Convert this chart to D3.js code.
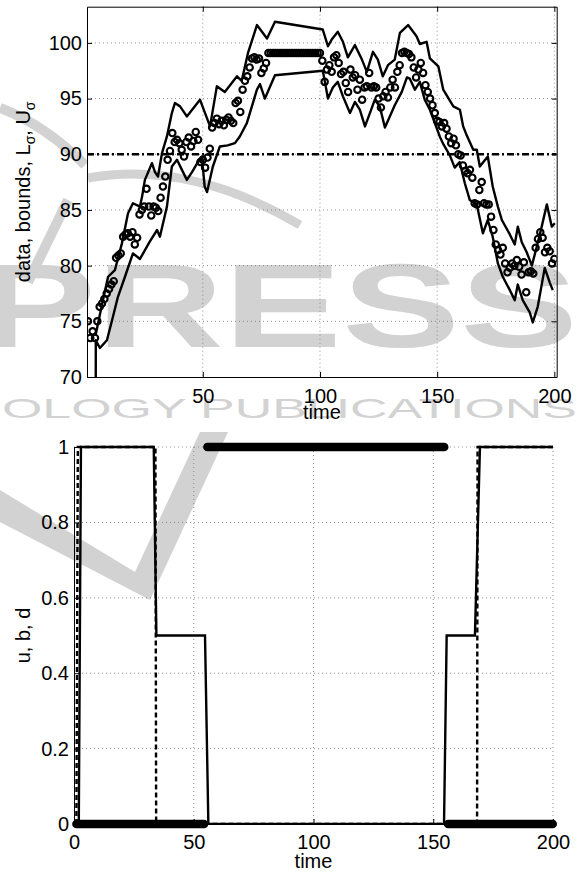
<!DOCTYPE html>
<html><head><meta charset="utf-8">
<script src="https://cdn.jsdelivr.net/npm/d3@7"></script>
<style>
body{margin:0;background:#fff;}
text{font-family:"Liberation Sans",Arial,Helvetica,sans-serif;}
</style>
</head><body>
<svg id="chart" width="579" height="872"></svg>
<script>
// ---------- top panel data ----------
const dataValues = [
75.0,73.5,74.1,73.5,75.0,76.3,76.6,77.0,77.5,77.9,
78.3,78.6,80.7,80.9,81.1,82.6,82.8,82.9,82.6,83.0,
81.9,82.5,84.6,85.0,85.3,86.9,85.3,84.5,85.3,85.2,
84.9,86.1,87.1,88.0,89.5,90.3,91.9,91.1,91.3,91.0,
90.4,89.8,91.1,91.5,90.7,91.2,92.0,91.3,89.3,89.5,
88.8,89.7,90.5,92.4,92.8,93.2,92.7,93.0,92.6,93.1,
93.3,93.0,92.8,94.6,94.8,93.8,95.8,96.6,97.0,97.8,
98.6,98.7,98.5,98.6,97.3,97.7,98.2,99.1,99.1,99.1,
99.1,99.1,99.1,99.1,99.1,99.1,99.1,99.1,99.1,99.1,
99.1,99.1,99.1,99.1,99.1,99.1,99.1,99.1,99.1,99.1,
98.4,96.5,97.6,98.0,97.4,98.7,98.9,98.2,97.2,97.4,
96.4,95.6,97.6,96.9,97.1,95.8,96.7,94.9,96.0,96.1,
97.3,96.0,96.1,96.0,95.0,94.2,95.2,95.6,95.1,96.0,
96.7,96.0,97.4,98.0,99.1,99.2,99.1,99.0,98.7,97.8,
96.9,97.6,98.2,97.3,96.2,95.6,95.0,94.4,93.7,93.0,
92.9,92.5,92.8,92.3,91.6,91.0,91.4,90.8,90.0,89.9,
89.0,88.5,88.3,88.6,87.9,85.6,85.5,86.8,87.5,85.6,
85.5,85.5,84.4,83.2,81.9,81.4,81.0,81.6,80.2,79.4,
79.8,80.2,80.0,80.5,79.9,79.2,80.3,77.6,79.4,79.5,
79.3,81.6,82.4,83.0,82.5,81.2,81.6,81.3,80.2,80.6
];
const upperTime = [4.3,7.0,9.6,12.5,15.5,18.1,20.2,23.2,24.1,25.3,28.3,29.6,30.9,32.6,34.7,36.8,38.1,40.3,43.2,48.8,
53.1,56.0,59.4,64.6,66.6,69.3,73.1,77.4,80.8,101.2,103.4,105.0,107.6,109.8,111.9,114.9,117.9,120.0,122.6,124.7,
126.8,129.0,131.9,134.1,137.6,141.2,142.6,145.5,146.9,150.5,152.6,156.9,159.7,161.1,162.6,165.4,166.9,168.2,171.6,173.7,
175.9,177.6,181.0,183.1,184.4,186.1,188.2,190.4,192.5,194.6,196.8,198.9,200.2];
const upperValues = [73.8,76.5,79.0,79.6,82.0,84.7,85.6,85.3,86.2,87.7,89.2,88.4,88.0,90.1,91.6,93.7,94.6,94.3,93.4,94.9,
92.5,96.1,95.6,97.0,96.6,99.1,101.6,100.4,101.9,101.2,99.7,100.3,101.0,100.1,98.7,99.8,98.5,97.4,99.2,98.5,
97.0,98.0,98.5,100.9,101.6,100.6,99.9,100.1,98.6,97.9,95.8,94.3,94.0,92.5,91.7,90.4,90.4,88.9,89.8,87.1,
85.3,84.1,82.8,81.9,83.5,82.1,81.2,80.0,81.7,83.5,85.5,83.5,83.8];
const lowerTime = [4.3,4.35,6.1,9.1,11.3,13.8,16.8,20.2,23.2,27.5,30.5,31.7,34.7,36.8,39.0,41.1,43.2,45.4,47.9,49.6,
50.8,51.8,54.3,57.3,60.6,63.7,65.8,68.8,73.1,74.4,76.5,80.8,101.2,102.1,103.4,105.5,107.6,109.8,112.8,114.9,
117.0,119.2,121.3,123.4,125.5,127.7,129.8,131.9,134.9,137.1,138.3,140.5,142.6,144.7,146.9,151.1,152.4,155.4,157.5,159.6,
161.8,163.9,166.9,169.5,171.6,173.7,175.9,178.0,181.0,183.1,184.4,186.5,189.5,190.8,192.9,195.9,198.0,199.3];
const lowerValues = [60.0,73.3,72.6,73.3,75.1,77.2,79.0,81.1,80.6,82.2,83.2,82.6,85.3,88.9,89.5,88.6,87.7,88.4,89.3,89.8,
87.1,86.6,88.9,90.7,90.8,91.0,91.6,92.8,95.8,96.3,95.0,97.1,97.5,96.5,95.0,96.0,96.5,95.2,93.7,94.7,
94.0,92.5,93.7,94.9,94.3,92.4,93.4,94.4,95.6,96.9,96.8,95.8,96.5,94.9,94.0,91.6,91.0,89.9,88.8,89.3,
87.4,85.9,85.5,82.9,84.1,82.6,80.2,79.0,77.8,76.9,78.3,76.9,75.8,74.9,76.3,79.8,78.5,77.8];
const thresholdValue = 90;
const topXTicks = [50,100,150,200];
const topYTicks = [70,75,80,85,90,95,100];

// ---------- bottom panel data ----------
const uTime   = [1, 2.0, 2.9, 33.3, 34.4, 54.7, 56.1, 154.5, 155.6, 167.4, 169.5, 200];
const uValues = [0, 0,   1,   1,    0.5,  0.5,  0,    0,     0.5,   0.5,   1,     1];
const bTime   = [1, 1.6, 34.0, 34.3, 168.3, 168.5, 200];
const bValues = [0, 1,   1,    0,    0,     1,     1];
const dStart  = [1, 55.7, 156.2];
const dEnd    = [54.3, 154.6, 199.9];
const dValues = [0, 1, 0];
const botXTicks = [0,50,100,150,200];
const botYTicks = [0,0.2,0.4,0.6,0.8,1];

const svg = d3.select("#chart");
const FS = 20;

// ---------- watermark (background) ----------
const WM = "#d2d2d2";
const wm = svg.append("g").attr("fill",WM);
wm.append("text").attr("x",-22).attr("y",347).attr("font-size",118).attr("font-weight","bold")
  .attr("textLength",600).attr("lengthAdjust","spacingAndGlyphs").text("PRESS");
wm.append("text").attr("x",2).attr("y",418).attr("font-size",28)
  .attr("textLength",575).attr("lengthAdjust","spacingAndGlyphs").text("OLOGY PUBLICATIONS");
wm.append("path").attr("d","M0,490 L135,572 L200,432 L228,432 L150,600 L0,522 Z");
wm.append("path").attr("fill","none").attr("stroke",WM).attr("stroke-width",10)
  .attr("d","M0,108 Q45,125 85,165");
wm.append("path").attr("fill","none").attr("stroke",WM).attr("stroke-width",9)
  .attr("d","M88,178 Q190,160 300,225");
wm.append("path").attr("fill","none").attr("stroke",WM).attr("stroke-width",10)
  .attr("d","M28,282 L68,200");

// ---------- top panel ----------
const T = {l:87, r:556.7, t:6.7, b:377};
const x1 = d3.scaleLinear().domain([0.6,201]).range([T.l,T.r]);
const y1 = d3.scaleLinear().domain([70,103.25]).range([T.b,T.t]);
const g1 = svg.append("g");
g1.append("defs").append("clipPath").attr("id","clipTop")
  .append("rect").attr("x",T.l).attr("y",T.t).attr("width",T.r-T.l).attr("height",T.b-T.t);

// grid
g1.selectAll(".gx").data(topXTicks).join("line")
  .attr("x1",d=>x1(d)).attr("x2",d=>x1(d)).attr("y1",T.t).attr("y2",T.b)
  .attr("stroke","#777").attr("stroke-width",0.8).attr("stroke-dasharray","1,3");
g1.selectAll(".gy").data(topYTicks.filter(d=>d>70)).join("line")
  .attr("x1",T.l).attr("x2",T.r).attr("y1",d=>y1(d)).attr("y2",d=>y1(d))
  .attr("stroke","#777").attr("stroke-width",0.8).attr("stroke-dasharray","1,3");

// axes
const ax1 = g1.append("g").attr("transform",`translate(${T.l},0)`)
  .call(d3.axisLeft(y1).tickValues(topYTicks).tickSize(-5).tickSizeOuter(0).tickPadding(5));
const ax2 = g1.append("g").attr("transform",`translate(${T.r},0)`)
  .call(d3.axisRight(y1).tickValues(topYTicks).tickSize(-5).tickSizeOuter(0).tickFormat(""));
const ax3 = g1.append("g").attr("transform",`translate(0,${T.b})`)
  .call(d3.axisBottom(x1).tickValues(topXTicks).tickSize(-5).tickSizeOuter(0).tickPadding(11.5));
const ax4 = g1.append("g").attr("transform",`translate(0,${T.t})`)
  .call(d3.axisTop(x1).tickValues(topXTicks).tickSize(-5).tickSizeOuter(0).tickFormat(""));
[ax1,ax2,ax3,ax4].forEach(a=>{
  a.selectAll("path,line").attr("stroke","#000");
  a.selectAll("text").attr("font-size",FS).attr("fill","#000")
   .attr("font-family",'"Liberation Sans",Arial,sans-serif');
});

const plot1 = g1.append("g").attr("clip-path","url(#clipTop)");
// threshold line
plot1.append("line").attr("x1",T.l).attr("x2",T.r)
  .attr("y1",y1(thresholdValue)).attr("y2",y1(thresholdValue))
  .attr("stroke","#000").attr("stroke-width",2.4).attr("stroke-dasharray","7,3,2,3");
// bounds
const lineTop = d3.line().x(d=>x1(d[0])).y(d=>y1(d[1]));
plot1.append("path").datum(upperTime.map((t,i)=>[t,upperValues[i]]))
  .attr("d",lineTop).attr("fill","none").attr("stroke","#000").attr("stroke-width",2.4)
  .attr("stroke-linejoin","round");
plot1.append("path").datum(lowerTime.map((t,i)=>[t,lowerValues[i]]))
  .attr("d",lineTop).attr("fill","none").attr("stroke","#000").attr("stroke-width",2.4)
  .attr("stroke-linejoin","round");
// data circles
plot1.selectAll("circle.dat").data(dataValues).join("circle")
  .attr("cx",(d,i)=>x1(i+1)).attr("cy",d=>y1(d)).attr("r",3.2)
  .attr("fill","none").attr("stroke","#000").attr("stroke-width",2.1);

g1.append("text").attr("x",x1(100)+2).attr("y",419).attr("text-anchor","middle")
  .attr("font-size",FS).text("time");
const yl1 = g1.append("text").attr("transform",`translate(30,${(T.t+T.b)/2}) rotate(-90)`)
  .attr("text-anchor","middle").attr("font-size",FS);
yl1.append("tspan").text("data, bounds, L");
yl1.append("tspan").attr("font-size",14).attr("dy",5).text("σ");
yl1.append("tspan").attr("dy",-5).text(", U");
yl1.append("tspan").attr("font-size",14).attr("dy",5).text("σ");

// ---------- bottom panel ----------
const B = {l:74, r:553, t:447, b:824};
const x2 = d3.scaleLinear().domain([0,200]).range([B.l,B.r]);
const y2 = d3.scaleLinear().domain([0,1]).range([B.b,B.t]);
const g2 = svg.append("g");
g2.append("defs").append("clipPath").attr("id","clipBot")
  .append("rect").attr("x",B.l).attr("y",B.t-10).attr("width",B.r-B.l+10).attr("height",B.b-B.t+10);

g2.selectAll(".gx").data(botXTicks.filter(d=>d>0)).join("line")
  .attr("x1",d=>x2(d)).attr("x2",d=>x2(d)).attr("y1",B.t).attr("y2",B.b)
  .attr("stroke","#777").attr("stroke-width",0.8).attr("stroke-dasharray","1,3");
g2.selectAll(".gy").data(botYTicks.filter(d=>d>0)).join("line")
  .attr("x1",B.l).attr("x2",B.r).attr("y1",d=>y2(d)).attr("y2",d=>y2(d))
  .attr("stroke","#777").attr("stroke-width",0.8).attr("stroke-dasharray","1,3");

const bx1 = g2.append("g").attr("transform",`translate(${B.l},0)`)
  .call(d3.axisLeft(y2).tickValues(botYTicks).tickSize(-5).tickSizeOuter(0).tickPadding(5)
        .tickFormat(d=>d===0||d===1?String(d):d3.format(".1f")(d)));
const bx2 = g2.append("g").attr("transform",`translate(0,${B.b})`)
  .call(d3.axisBottom(x2).tickValues(botXTicks).tickSize(-5).tickSizeOuter(0).tickPadding(10.5));
[bx1,bx2].forEach(a=>{
  a.selectAll("path,line").attr("stroke","#000");
  a.selectAll("text").attr("font-size",FS).attr("fill","#000")
   .attr("font-family",'"Liberation Sans",Arial,sans-serif');
});

const lineBot = d3.line().x(d=>x2(d[0])).y(d=>y2(d[1]));
const plot2 = g2.append("g").attr("clip-path","url(#clipBot)");
plot2.append("path").datum(uTime.map((t,i)=>[t,uValues[i]]))
  .attr("d",lineBot).attr("fill","none").attr("stroke","#000").attr("stroke-width",2.4);
plot2.append("path").datum(bTime.map((t,i)=>[t,bValues[i]]))
  .attr("d",lineBot).attr("fill","none").attr("stroke","#000").attr("stroke-width",2.4)
  .attr("stroke-dasharray","5,3");
g2.selectAll("line.dseg").data(dValues).join("line")
  .attr("x1",(d,i)=>x2(dStart[i])).attr("x2",(d,i)=>x2(dEnd[i]))
  .attr("y1",d=>y2(d)).attr("y2",d=>y2(d))
  .attr("stroke","#000").attr("stroke-width",8.5).attr("stroke-linecap","round");

g2.append("text").attr("x",x2(100)).attr("y",868).attr("text-anchor","middle")
  .attr("font-size",FS).text("time");
g2.append("text").attr("transform",`translate(30,${(B.t+B.b)/2}) rotate(-90)`)
  .attr("text-anchor","middle").attr("font-size",FS).text("u, b, d");
</script>
</body></html>
